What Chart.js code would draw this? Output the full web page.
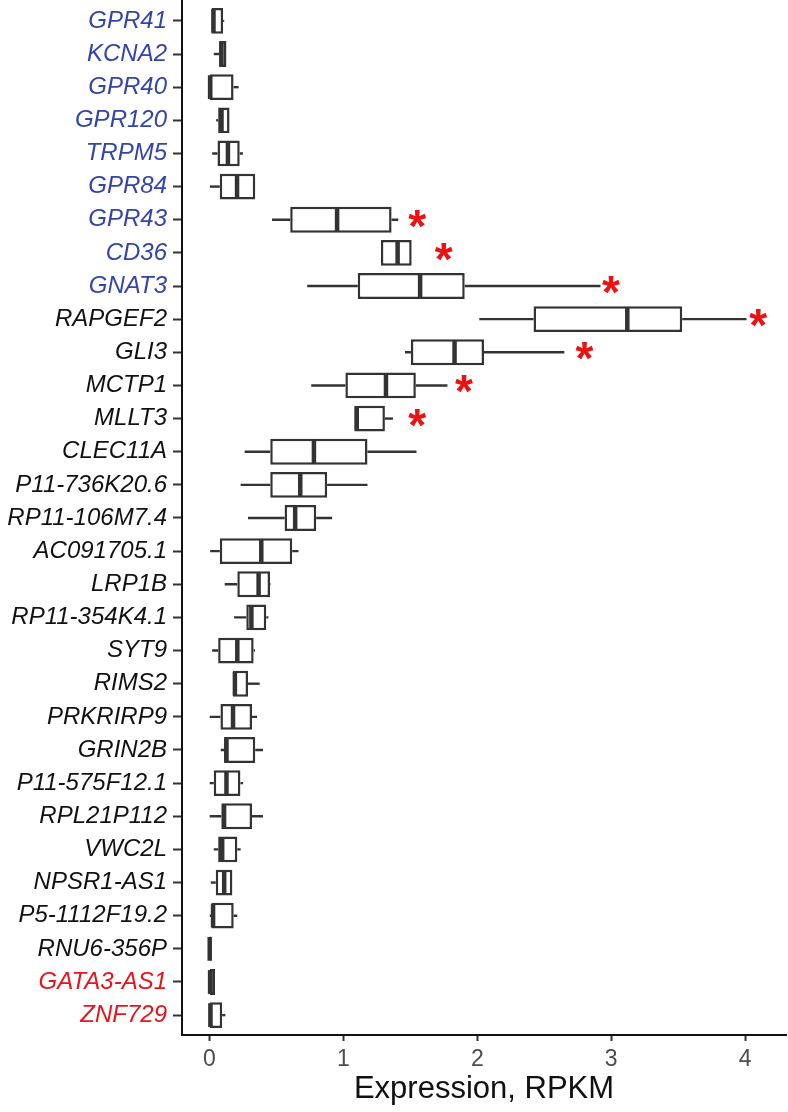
<!DOCTYPE html>
<html>
<head>
<meta charset="utf-8">
<script src="https://cdn.jsdelivr.net/npm/chart.js@4/dist/chart.umd.min.js"></script>
<style>
  html, body { margin: 0; padding: 0; background: #fff; }
  canvas { display: block; }
</style>
</head>
<body>
<canvas id="myChart" width="788" height="1112"></canvas>
<script>
const genes = [
  "GPR41", "KCNA2", "GPR40", "GPR120", "TRPM5", "GPR84", "GPR43", "CD36", "GNAT3",
  "RAPGEF2", "GLI3", "MCTP1", "MLLT3", "CLEC11A", "P11-736K20.6", "RP11-106M7.4",
  "AC091705.1", "LRP1B", "RP11-354K4.1", "SYT9", "RIMS2", "PRKRIRP9", "GRIN2B",
  "P11-575F12.1", "RPL21P112", "VWC2L", "NPSR1-AS1", "P5-1112F19.2", "RNU6-356P",
  "GATA3-AS1", "ZNF729",
];
// label group: "fat" (blue), "none" (black), "down" (red)
const labelGroup = [
  "fat", "fat", "fat", "fat", "fat", "fat", "fat", "fat", "fat",
  "none", "none", "none", "none", "none", "none", "none", "none", "none", "none",
  "none", "none", "none", "none", "none", "none", "none", "none", "none", "none",
  "down", "down",
];
const whiskerLow = [
  0.015, 0.032, 0.0, 0.05, 0.02, 0.003, 0.467, 1.28, 0.73,
  2.015, 1.46, 0.76, 1.082, 0.263, 0.233, 0.288, 0.005, 0.114, 0.184,
  0.02, 0.176, 0.002, 0.084, 0.002, 0.002, 0.032, 0.01, 0.002, 0.0,
  0.0, 0.0,
];
const q1 = [
  0.015, 0.072, 0.0, 0.065, 0.06, 0.077, 0.603, 1.28, 1.107,
  2.42, 1.504, 1.015, 1.082, 0.454, 0.454, 0.561, 0.077, 0.208, 0.275,
  0.065, 0.176, 0.082, 0.109, 0.032, 0.089, 0.065, 0.047, 0.015, 0.0,
  0.0, 0.0,
];
const median = [
  0.03, 0.09, 0.005, 0.09, 0.138, 0.206, 0.953, 1.405, 1.573,
  3.12, 1.83, 1.318, 1.1, 0.78, 0.678, 0.64, 0.387, 0.367, 0.313,
  0.208, 0.19, 0.176, 0.127, 0.127, 0.109, 0.095, 0.11, 0.027, 0.002,
  0.005, 0.007,
];
const q3 = [
  0.102, 0.127, 0.18, 0.15, 0.226, 0.342, 1.36, 1.51, 1.906,
  3.53, 2.05, 1.541, 1.31, 1.18, 0.879, 0.797, 0.618, 0.452, 0.424,
  0.33, 0.288, 0.318, 0.342, 0.231, 0.318, 0.208, 0.171, 0.181, 0.008,
  0.042, 0.095,
];
const whiskerHigh = [
  0.11, 0.127, 0.218, 0.15, 0.25, 0.342, 1.41, 1.51, 2.92,
  4.01, 2.65, 1.777, 1.37, 1.546, 1.18, 0.916, 0.665, 0.455, 0.44,
  0.34, 0.375, 0.355, 0.4, 0.251, 0.4, 0.233, 0.171, 0.208, 0.008,
  0.042, 0.119,
];
// where the significance star sits (x value), null = no star
const starAt = [
  null, null, null, null, null, null, 1.551, 1.75, 2.998,
  4.098, 2.8, 1.9, 1.551, null, null, null, null, null, null,
  null, null, null, null, null, null, null, null, null, null,
  null, null,
];
const xTicks = [0, 1, 2, 3, 4];

const groupColor = { fat: "#3344aa", none: "#111111", down: "#e8141c" };
const ink = "#333333";

Chart.defaults.font.family = "'Liberation Sans', Arial, sans-serif";

const boxParts = {
  id: "boxParts",
  beforeDatasetsDraw(chart) {
    const { ctx } = chart;
    const x = chart.scales.x;
    const y = chart.scales.y;
    ctx.save();
    ctx.strokeStyle = ink;
    ctx.lineWidth = 2.4;
    genes.forEach((g, i) => {
      const py = y.getPixelForValue(i);
      ctx.beginPath();
      ctx.moveTo(x.getPixelForValue(whiskerLow[i]), py);
      ctx.lineTo(x.getPixelForValue(q1[i]), py);
      ctx.moveTo(x.getPixelForValue(q3[i]), py);
      ctx.lineTo(x.getPixelForValue(whiskerHigh[i]), py);
      ctx.stroke();
    });
    ctx.restore();
  },
  afterDatasetsDraw(chart) {
    const { ctx } = chart;
    const x = chart.scales.x;
    const y = chart.scales.y;
    const meta = chart.getDatasetMeta(0);
    ctx.save();
    ctx.strokeStyle = ink;
    ctx.lineWidth = 4.5;
    genes.forEach((g, i) => {
      const el = meta.data[i];
      const { y: py, height } = el.getProps(["y", "height"], true);
      const px = x.getPixelForValue(median[i]);
      ctx.beginPath();
      ctx.moveTo(px, py - height / 2 + 1);
      ctx.lineTo(px, py + height / 2 - 1);
      ctx.stroke();
    });

    ctx.fillStyle = "#ee1111";
    ctx.font = "bold 46px 'Liberation Sans', Arial, sans-serif";
    ctx.textAlign = "center";
    ctx.textBaseline = "alphabetic";
    const m = ctx.measureText("*");
    const shift = (m.actualBoundingBoxAscent - m.actualBoundingBoxDescent) / 2;
    starAt.forEach((s, i) => {
      if (s === null) return;
      ctx.fillText("*", x.getPixelForValue(s), y.getPixelForValue(i) + shift - 1);
    });
    ctx.restore();
  },
};

const ctx = document.getElementById("myChart").getContext("2d");
new Chart(ctx, {
  type: "bar",
  data: {
    datasets: [
      {
        data: genes.map((g, i) => ({ y: i, x: [q1[i], q3[i]] })),
        backgroundColor: "#ffffff",
        borderColor: ink,
        borderWidth: 2.5,
        borderSkipped: false,
        categoryPercentage: 1,
        barPercentage: 0.78,
      },
    ],
  },
  options: {
    indexAxis: "y",
    responsive: false,
    animation: false,
    events: [],
    layout: { padding: { top: 1, right: 2, left: 0, bottom: 0 } },
    plugins: {
      legend: { display: false },
      tooltip: { enabled: false },
    },
    scales: {
      y: {
        type: "linear",
        reverse: true,
        offset: false,
        min: -0.6,
        max: 30.6,
        afterBuildTicks: (s) => {
          s.ticks = genes.map((g, i) => ({ value: i }));
        },
        afterFit: (s) => {
          s.width = 182;
          s.paddingTop = 0;
          s.paddingBottom = 0;
        },
        ticks: {
          autoSkip: false,
          padding: 6,
          callback: (v) => genes[v],
          color: (c) => groupColor[labelGroup[c.index]],
          font: { size: 24, style: "italic" },
        },
        grid: {
          offset: false,
          drawOnChartArea: false,
          drawTicks: true,
          tickLength: 9,
          tickWidth: 2,
          tickColor: ink,
        },
        border: { display: true, color: "#111111", width: 2 },
      },
      x: {
        type: "linear",
        min: -0.205,
        max: 4.305,
        afterBuildTicks: (s) => {
          s.ticks = xTicks.map((v) => ({ value: v }));
        },
        afterFit: (s) => {
          s.height = 77;
          s.paddingLeft = 0;
          s.paddingRight = 0;
        },
        ticks: {
          padding: 5,
          color: "#4d4d4d",
          font: { size: 23 },
        },
        grid: {
          drawOnChartArea: false,
          drawTicks: true,
          tickLength: 6,
          tickWidth: 2,
          tickColor: ink,
        },
        border: { display: true, color: "#111111", width: 2 },
        title: {
          display: true,
          text: "Expression, RPKM",
          color: "#111111",
          font: { size: 31 },
          padding: { top: 0, bottom: 4 },
        },
      },
    },
  },
  plugins: [boxParts],
});
</script>
</body>
</html>
